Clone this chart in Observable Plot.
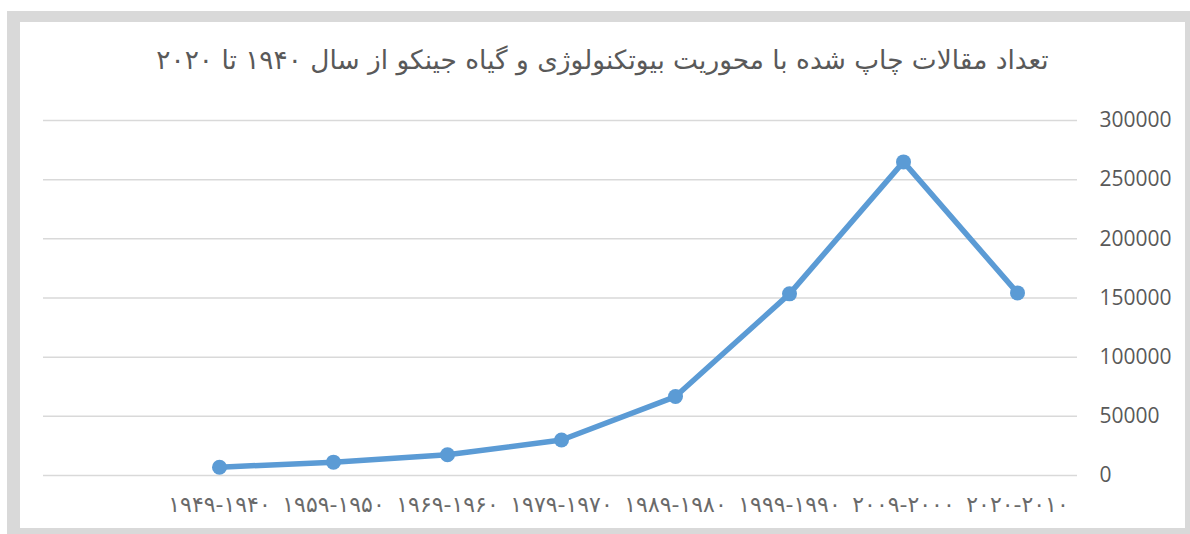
<!DOCTYPE html>
<html>
<head>
<meta charset="utf-8">
<script src="https://cdn.jsdelivr.net/npm/d3@7"></script>
<script src="https://cdn.jsdelivr.net/npm/@observablehq/plot@0.6"></script>
<style>
  html, body { margin: 0; padding: 0; background: #ffffff; }
  #frame { position: absolute; left: 7px; top: 11px; width: 1183px; height: 523px; background: #d9d9d9; }
  #panel { position: absolute; left: 13px; top: 11px; width: 1165px; height: 506px; background: #ffffff; }
  #title { height: 80px; box-sizing: border-box; padding-top: 21px; text-align: center; direction: rtl;
           font-family: "DejaVu Sans", sans-serif; font-size: 26.4px; color: #595959; line-height: 34px; }
  #chart svg { display: block; }
</style>
</head>
<body>
<div id="frame"><div id="panel">
  <div id="title">تعداد مقالات چاپ شده با محوریت بیوتکنولوژی و گیاه جینکو از سال ۱۹۴۰ تا ۲۰۲۰</div>
  <div id="chart"></div>
</div></div>
<script>
const periods = ["۱۹۴۰-۱۹۴۹", "۱۹۵۰-۱۹۵۹", "۱۹۶۰-۱۹۶۹", "۱۹۷۰-۱۹۷۹", "۱۹۸۰-۱۹۸۹", "۱۹۹۰-۱۹۹۹", "۲۰۰۰-۲۰۰۹", "۲۰۱۰-۲۰۲۰"];
const counts = [7000, 11300, 17500, 30000, 66700, 153500, 265000, 154300];
const yTicks = [0, 50000, 100000, 150000, 200000, 250000, 300000];

const data = periods.map((p, i) => ({period: p, count: counts[i]}));
const rtlLabel = d => "\u202B" + d.replace("-", "\u200F-") + "\u202C";

const chart = Plot.plot({
  width: 1165,
  height: 426,
  marginTop: 18,
  marginBottom: 53,
  marginLeft: 23,
  marginRight: 108,
  style: {fontFamily: "'Open Sans', sans-serif", background: "#ffffff"},
  x: {type: "point", domain: periods, range: [138, 1057], padding: 0.5, label: null},
  y: {domain: [0, 300000], label: null},
  marks: [
    Plot.gridY(yTicks, {stroke: "#d9d9d9", strokeOpacity: 1, strokeWidth: 1.5}),
    Plot.axisY(yTicks, {anchor: "right", tickSize: 0, tickPadding: 22, textAnchor: "start",
      fontSize: 21, fill: "#595959", label: null, tickFormat: d => String(d)}),
    Plot.axisX({anchor: "bottom", tickSize: 0, tickPadding: 21, fontSize: 22, fill: "#6a6a6a",
      fontFamily: "'DejaVu Sans', sans-serif", label: null, tickFormat: rtlLabel}),
    Plot.line(data, {x: "period", y: "count", stroke: "#5B9BD5", strokeWidth: 5.5, strokeLinejoin: "round"}),
    Plot.dot(data, {x: "period", y: "count", r: 7.5, fill: "#5B9BD5", stroke: "none"})
  ]
});
document.getElementById("chart").appendChild(chart);
</script>
</body>
</html>
